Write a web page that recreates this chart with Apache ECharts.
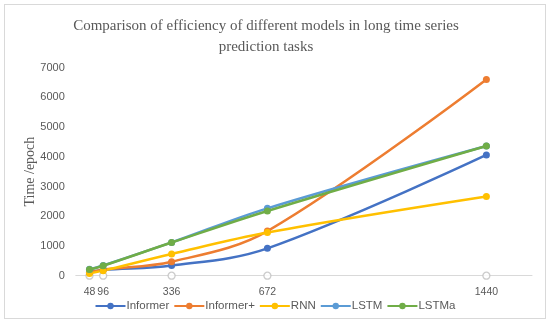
<!DOCTYPE html>
<html><head><meta charset="utf-8">
<script src="https://cdn.jsdelivr.net/npm/echarts@6/dist/echarts.min.js"></script>
<style>
html,body{margin:0;padding:0;background:#fff;}
#frame{position:absolute;left:4px;top:4px;width:540px;height:313px;border:1px solid #d9d9d9;}
#c{position:absolute;left:0;top:0;width:550px;height:323px;}
</style></head><body>
<div id="frame"></div>
<div id="c"></div>
<script>
const xValues = [48, 96, 336, 672, 1440];
const informer = [120, 190, 340, 920, 4060];
const informerPlus = [110, 200, 470, 1500, 6600];
const rnn = [70, 170, 730, 1450, 2660];
const lstm = [215, 345, 1120, 2265, 4360];
const lstma = [210, 336, 1115, 2175, 4360];
const yTicks = [0, 1000, 2000, 3000, 4000, 5000, 6000, 7000];

const names = ['Informer', 'Informer+', 'RNN', 'LSTM', 'LSTMa'];
const colors = ['#4472C4', '#ED7D31', '#FFC000', '#5B9BD5', '#70AD47'];
const values = [informer, informerPlus, rnn, lstm, lstma];

const pair = arr => xValues.map((x, i) => [x, arr[i]]);
const series = names.map((n, i) => ({
  name: n, type: 'line', smooth: 0.35, data: pair(values[i]),
  symbol: 'circle', symbolSize: 7, z: 3 + (i === 4 ? 2 : 0),
  itemStyle: {color: colors[i]},
  lineStyle: {width: 2.5, color: colors[i]}
}));
series.unshift({
  name: 'base', type: 'scatter', data: xValues.map(x => [x, 0]),
  symbol: 'circle', symbolSize: 7, z: 2, clip: false,
  itemStyle: {color: '#ffffff', borderColor: '#bfbfbf', borderWidth: 1.3}
});

const chart = echarts.init(document.getElementById('c'));
chart.setOption({
  animation: false,
  title: {
    text: 'Comparison of efficiency of different models in long time series\nprediction tasks',
    left: 261, top: 11, textAlign: 'center',
    textStyle: {fontFamily: 'Liberation Serif', fontSize: 15, fontWeight: 'normal', color: '#595959', lineHeight: 21}
  },
  legend: {
    data: names, bottom: 6, left: 'center', itemWidth: 30, itemHeight: 8, itemGap: 4,
    textStyle: {fontFamily: 'Liberation Sans', fontSize: 11.5, color: '#595959', padding: [0,0,0,-4]}
  },
  grid: {left: 75.8, right: 18, top: 67.5, bottom: 47.3, containLabel: false},
  xAxis: {
    type: 'value', min: 0, max: 1600,
    axisLine: {show: true, lineStyle: {color: '#d9d9d9', width: 1}},
    axisTick: {show: false},
    splitLine: {show: false},
    axisLabel: {customValues: xValues, margin: 11, fontFamily: 'Liberation Sans', fontSize: 10.5, color: '#595959',
      formatter: v => String(v)}
  },
  yAxis: {
    type: 'value', min: 0, max: 7000, interval: 1000,
    name: 'Time /epoch', nameLocation: 'middle', nameGap: 38, nameRotate: 90, nameMoveOverlap: false,
    nameTextStyle: {fontFamily: 'Liberation Serif', fontSize: 14, color: '#595959'},
    axisLine: {show: false}, axisTick: {show: false},
    splitLine: {show: false},
    axisLabel: {margin: 11, fontFamily: 'Liberation Sans', fontSize: 11, color: '#595959',
      customValues: yTicks, formatter: v => String(v)}
  },
  series: series
});
</script></body></html>
